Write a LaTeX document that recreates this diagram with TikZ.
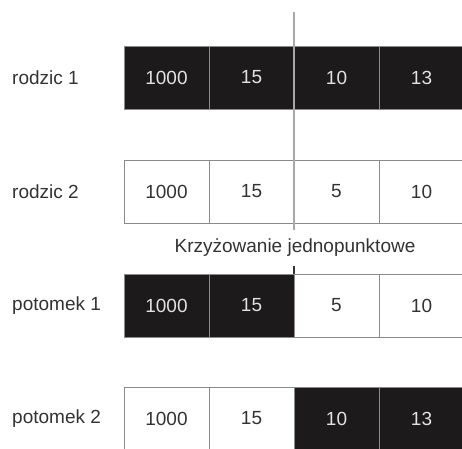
\documentclass[tikz,border=0pt]{standalone}
\usepackage{fontspec}
\setmainfont{Liberation Sans}
\definecolor{cellblack}{HTML}{1C1A1B}
\definecolor{cellborder}{HTML}{8A8A8A}
\definecolor{darktext}{HTML}{333333}
\definecolor{lighttext}{HTML}{E2E2E2}
\definecolor{cutline}{HTML}{A8A8A8}
\tikzset{
  cell/.style={minimum width=85pt, minimum height=63pt, inner sep=0pt, outer sep=0pt,
    draw=cellborder, line width=1pt, font=\fontsize{19}{23}\selectfont},
  darkcell/.style={cell, fill=cellblack, text=lighttext},
  lightcell/.style={cell, fill=white, text=darktext},
  rowlabel/.style={anchor=west, inner sep=0pt, text=darktext, font=\fontsize{19}{23}\selectfont},
}
\begin{document}
\begin{tikzpicture}[x=1pt,y=-1pt]
\useasboundingbox[fill=white] (0,0) rectangle (462,448);
% row labels
\node[rowlabel] (l1) at (12,77.5) {rodzic 1};
\node[rowlabel] (l2) at (12,191.5) {rodzic 2};
\node[rowlabel] (l3) at (12,305.5) {potomek 1};
\node[rowlabel] (l4) at (12,418.5) {potomek 2};
% rodzic 1
\node[darkcell] (a1) at (166.5,77.5) {1000};
\node[darkcell] (a2) at (251.5,77.5) {15};
\node[darkcell] (a3) at (336.5,77.5) {10};
\node[darkcell] (a4) at (421.5,77.5) {13};
% rodzic 2
\node[lightcell] (b1) at (166.5,191.5) {1000};
\node[lightcell] (b2) at (251.5,191.5) {15};
\node[lightcell] (b3) at (336.5,191.5) {5};
\node[lightcell] (b4) at (421.5,191.5) {10};
% potomek 1
\node[darkcell] (c1) at (166.5,305.5) {1000};
\node[darkcell] (c2) at (251.5,305.5) {15};
\node[lightcell] (c3) at (336.5,305.5) {5};
\node[lightcell] (c4) at (421.5,305.5) {10};
% potomek 2
\node[lightcell] (d1) at (166.5,418.5) {1000};
\node[lightcell] (d2) at (251.5,418.5) {15};
\node[darkcell] (d3) at (336.5,418.5) {10};
\node[darkcell] (d4) at (421.5,418.5) {13};
% caption
\node[text=darktext, font=\fontsize{19}{23}\selectfont, inner sep=0pt] (cap) at (295,248) {Krzyżowanie jednopunktowe};
% crossover line
\coordinate (cuttop) at (294,12);
\coordinate (cutbot) at (294,230);
\draw[cutline, line width=2pt] (cuttop) -- (cutbot);
\coordinate (ticktop) at (294,266);
\draw[darktext, line width=1.5pt] (ticktop) -- (c2.north east);
\end{tikzpicture}
\end{document}
